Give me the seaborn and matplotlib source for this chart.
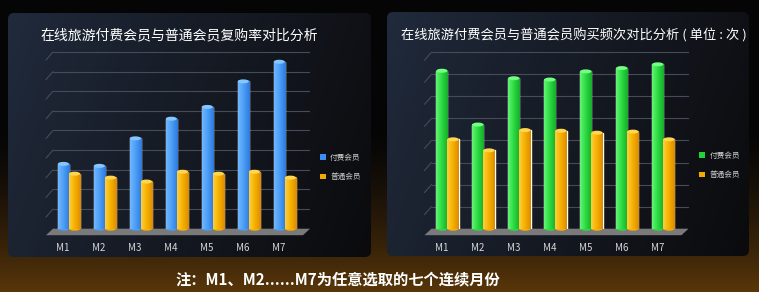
import numpy as np
import pandas as pd
import matplotlib
matplotlib.use('Agg')
import matplotlib.pyplot as plt
import seaborn as sns
from matplotlib.patches import FancyBboxPatch, Ellipse, Polygon, Rectangle
from matplotlib.colors import LinearSegmentedColormap, to_rgb
import matplotlib.transforms as mtransforms

# ---------------- data ----------------
months = ['M1', 'M2', 'M3', 'M4', 'M5', 'M6', 'M7']
series_names = ['付费会员', '普通会员']
repurchase_paid = [33, 32, 46, 56, 62, 75, 85]
repurchase_regular = [28, 26, 24, 29, 28, 29, 26]
freq_paid = [7.16, 4.72, 6.82, 6.76, 7.13, 7.28, 7.45]
freq_regular = [4.05, 3.55, 4.47, 4.44, 4.35, 4.40, 4.05]
title_left = '在线旅游付费会员与普通会员复购率对比分析'
title_right = '在线旅游付费会员与普通会员购买频次对比分析 ( 单位 : 次 )'
note_text = '注：M1、M2......M7为任意选取的七个连续月份'

sns.set_theme(style='dark')
plt.rcParams['font.family'] = ['Noto Sans CJK SC', 'DejaVu Sans']

W, H = 759, 292
fig = plt.figure(figsize=(W / 100, H / 100), dpi=100)
fig.patch.set_facecolor('black')

# ---------------- background ----------------
bg = fig.add_axes([0, 0, 1, 1], zorder=-5)
bg.axis('off')
yy, xx = np.mgrid[0:H, 0:W]
t = np.clip((yy - 120) / (H - 120), 0, 1) ** 1.6
glow = np.array([0.35, 0.215, 0.04])
base = np.array([0.02, 0.02, 0.025])
img = base + t[..., None] * (glow - base)
bg.imshow(img, extent=(0, W, H, 0), aspect='auto', zorder=0)


def panel(x0, y0, x1, y1):
    patch = FancyBboxPatch((x0, y0), x1 - x0, y1 - y0,
                           boxstyle='round,pad=0,rounding_size=6',
                           facecolor='none', edgecolor='none')
    bg.add_patch(patch)
    w = int(x1 - x0)
    h = int(y1 - y0)
    gx = np.linspace(0, 1, w)[None, :]
    gy = np.linspace(0, 1, h)[:, None]
    s = np.clip(0.8 * gx + 0.2 * gy, 0, 1)
    c0 = np.array(to_rgb('#212b3d'))
    c1 = np.array(to_rgb('#0b0b0d'))
    im = c0 + (s ** 0.9)[..., None] * (c1 - c0)
    i = bg.imshow(im, extent=(x0, x1, y1, y0), aspect='auto', zorder=1)
    i.set_clip_path(patch)


panel(8, 13, 371, 257)
panel(387, 12, 749, 256)

AX_W = 259.0
BASE_Y = 228.7
AX_H = 180.7


def chart(px_left, vals_a, vals_b, grid_vals, ylim_top, colors, grads, caps,
          title, title_x, title_fs, leg_x, leg_y):
    ax = fig.add_axes([px_left / W, 1 - BASE_Y / H, AX_W / W, AX_H / H])
    ax.patch.set_alpha(0)
    df = pd.DataFrame({
        '月份': months * 2,
        '系列': [series_names[0]] * len(months) + [series_names[1]] * len(months),
        '值': list(vals_a) + list(vals_b),
    })
    sns.barplot(data=df, x='月份', y='值', hue='系列', palette=colors,
                width=0.62, ax=ax, legend=False, saturation=1, zorder=3,
                err_kws={'linewidth': 0})
    ax.set_xlim(-0.5, 6.7)
    ax.set_ylim(0, ylim_top)

    # grid lines with perspective slant
    for v in grid_vals:
        ax.axhline(v, xmin=2 / AX_W, xmax=1, color='#454b58', lw=0.8, zorder=1)
        ypx = BASE_Y - v / ylim_top * AX_H
        bg.plot([px_left - 5, px_left + 2], [ypx + 8, ypx], color='#454b58',
                lw=0.8, zorder=2)
    # floor
    bg.add_patch(Polygon([(px_left + 2, BASE_Y), (px_left + AX_W, BASE_Y),
                          (px_left + AX_W - 7, BASE_Y + 6.5),
                          (px_left - 5, BASE_Y + 6.5)],
                         closed=True, facecolor='#7a7a7a', edgecolor='none',
                         zorder=2))

    eh = 4.0 * ylim_top / AX_H
    for ci, cont in enumerate(ax.containers):
        cmap = LinearSegmentedColormap.from_list('g%d' % ci, grads[ci])
        arr = cmap(np.linspace(0, 1, 64))[None, :, :]
        for bar in cont:
            x0 = bar.get_x()
            w = bar.get_width()
            h = bar.get_height()
            ax.imshow(arr, extent=(x0, x0 + w, 0, h), aspect='auto',
                      zorder=4, interpolation='bilinear')
            ax.add_patch(Ellipse((x0 + w / 2, 0), w, eh,
                                 facecolor=grads[ci][1], edgecolor='none',
                                 zorder=3.5, clip_on=False))
            ax.add_patch(Ellipse((x0 + w / 2, h), w, eh,
                                 facecolor=caps[ci], edgecolor='none',
                                 zorder=5, clip_on=False))
    ax.set_xlim(-0.5, 6.7)
    ax.set_ylim(0, ylim_top)
    ax.set_xlabel('')
    ax.set_ylabel('')
    ax.set_yticks([])
    ax.grid(False)
    for sp in ax.spines.values():
        sp.set_visible(False)
    ax.tick_params(axis='x', length=0, pad=10, labelsize=7, labelcolor='#d5d5d5')
    off = mtransforms.ScaledTranslation(-6 / 100, 0, fig.dpi_scale_trans)
    for lab in ax.get_xticklabels():
        lab.set_transform(lab.get_transform() + off)

    handles = [Rectangle((0, 0), 1, 1, facecolor=c, edgecolor='none') for c in colors]
    ax.legend(handles, series_names, loc='center left',
              bbox_to_anchor=(leg_x / W, 1 - leg_y / H),
              bbox_transform=fig.transFigure, frameon=False, fontsize=5.5,
              labelcolor='#cfcfcf', handlelength=0.8, handleheight=0.8,
              handletextpad=0.6, labelspacing=1.5, borderpad=0,
              borderaxespad=0)
    fig.text(title_x / W, 1 - 35 / H, title, ha='center', va='center',
             color='white', fontsize=title_fs)
    return ax


chart(51, repurchase_paid, repurchase_regular, list(range(10, 100, 10)), 92.0,
      ['#3d8ef0', '#f0aa00'],
      [['#70b8ff', '#4a9cf5', '#2c7ada'], ['#ffce3a', '#f5b000', '#dd8a00']],
      ['#86c6ff', '#ffd650'],
      title_left, 179, 10, 319.5, 167.5)

chart(429.5, freq_paid, freq_regular, list(range(1, 9)), 8.19,
      ['#22d23a', '#f0aa00'],
      [['#62f574', '#2bd941', '#15ad2a'], ['#ffce3a', '#f5b000', '#dd8a00']],
      ['#74ff84', '#ffd650'],
      title_right, 573.5, 9.5, 699, 165.5)

fig.text(338 / W, 1 - 279 / H, note_text, ha='center', va='center',
         color='white', fontsize=11, fontweight='bold')

bg.set_xlim(0, W)
bg.set_ylim(H, 0)

fig.savefig('out.png', dpi=100, facecolor=fig.get_facecolor())
